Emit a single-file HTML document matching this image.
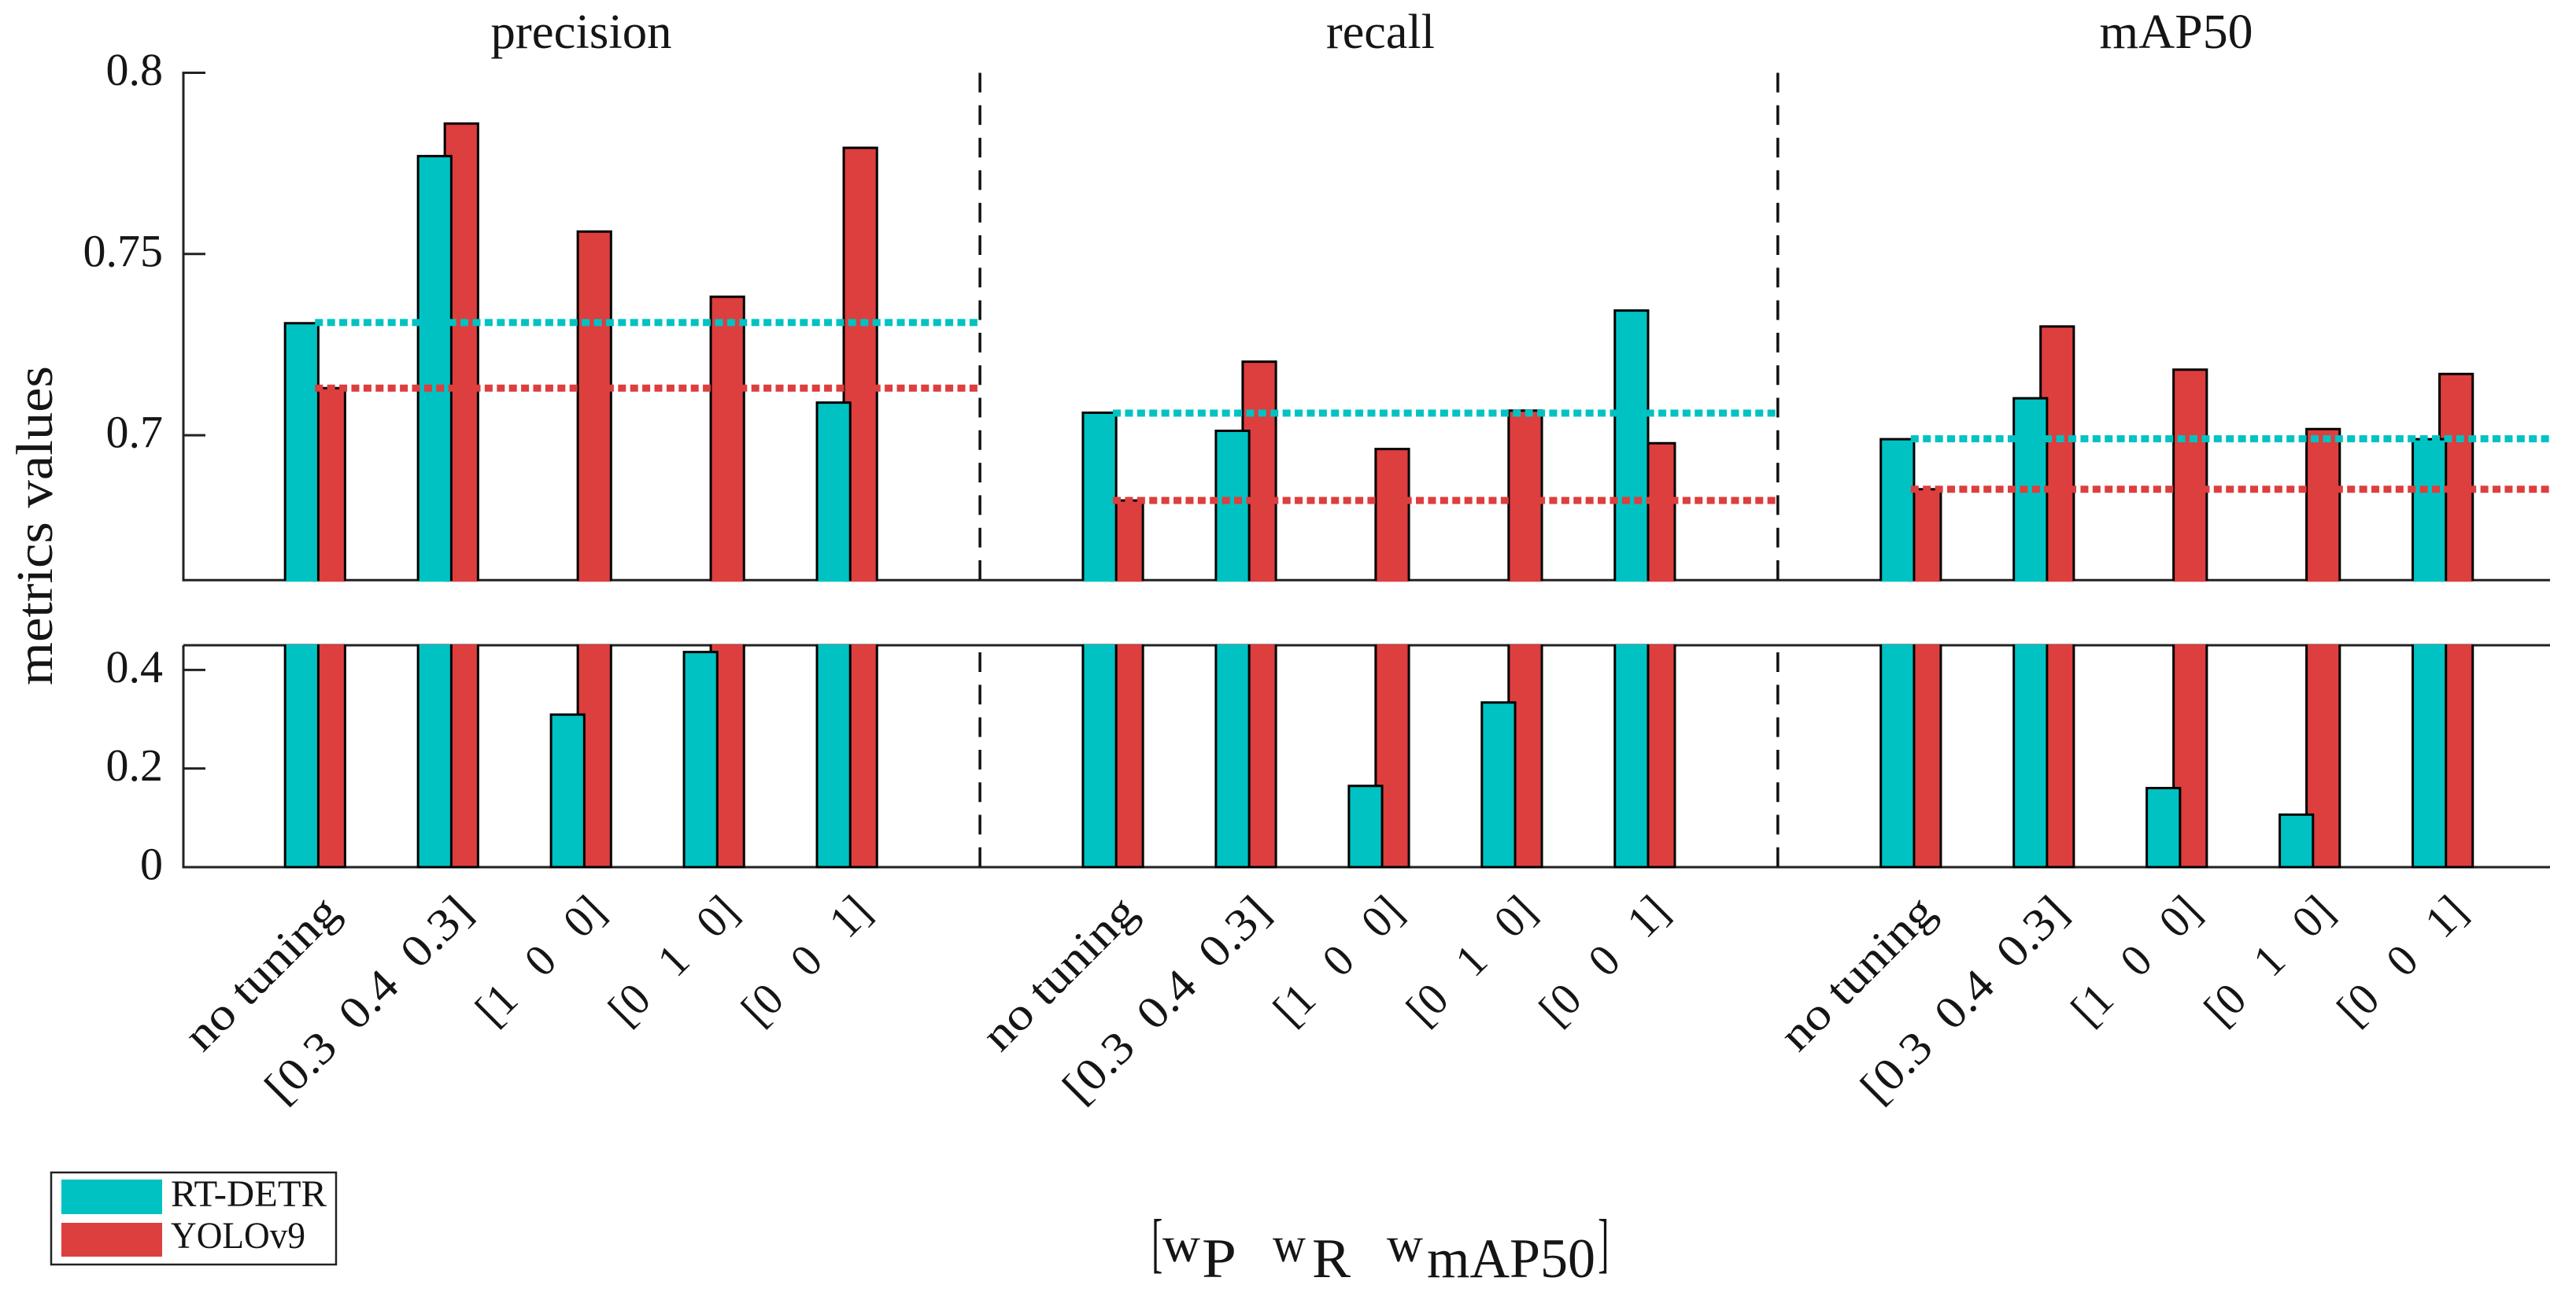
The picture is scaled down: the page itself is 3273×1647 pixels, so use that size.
<!DOCTYPE html>
<html lang="en">
<head>
<meta charset="utf-8">
<title>Metrics values by weight tuning</title>
<style>
html,body{margin:0;padding:0;background:#fff;}
svg{display:block;}
text{font-family:"Liberation Serif",serif;fill:#151515;white-space:pre;}
</style>
</head>
<body>
<svg id="chart" xmlns="http://www.w3.org/2000/svg" width="3273" height="1647" viewBox="0 0 3273 1647">
  <rect x="0" y="0" width="3273" height="1647" fill="#ffffff"/>
  <g id="axes"></g>
  <g id="marks"></g>
  <g id="refs"></g>
  <g id="labels"></g>

  <text transform="translate(66,871) rotate(-90)" font-size="66" textLength="406" lengthAdjust="spacingAndGlyphs">metrics values</text>

  <g>
    <text x="1463.3" y="1607.6" font-size="84" textLength="14" lengthAdjust="spacingAndGlyphs">[</text>
    <text x="1477" y="1603" font-size="64" textLength="48" lengthAdjust="spacingAndGlyphs">w</text>
    <text x="1527" y="1623" font-size="71" textLength="44" lengthAdjust="spacingAndGlyphs">P</text>
    <text x="1617" y="1603" font-size="64" textLength="42" lengthAdjust="spacingAndGlyphs">w</text>
    <text x="1667" y="1623" font-size="71" textLength="49" lengthAdjust="spacingAndGlyphs">R</text>
    <text x="1762" y="1603" font-size="64" textLength="46" lengthAdjust="spacingAndGlyphs">w</text>
    <text x="1813" y="1623" font-size="71" textLength="214" lengthAdjust="spacingAndGlyphs">mAP50</text>
    <text x="2030.3" y="1607.6" font-size="84" textLength="14" lengthAdjust="spacingAndGlyphs">]</text>
  </g>

  <g>
    <rect x="65" y="1490" width="362" height="117" fill="#ffffff" stroke="#222222" stroke-width="2.5"/>
    <rect x="78" y="1499" width="128" height="44" fill="#00c2c2"/>
    <text x="217" y="1533" font-size="48" textLength="198" lengthAdjust="spacingAndGlyphs">RT-DETR</text>
    <rect x="78" y="1554" width="128" height="43" fill="#dd3e3e"/>
    <text x="217" y="1586" font-size="48" textLength="171" lengthAdjust="spacingAndGlyphs">YOLOv9</text>
  </g>
</svg>

<script>
// ---- chart data ----
const metricNames = ['precision', 'recall', 'mAP50'];
const weightLabels = ['no tuning', '[0.3\u00a0\u00a00.4\u00a0\u00a00.3]', '[1\u00a0\u00a0\u00a00\u00a0\u00a0\u00a00]', '[0\u00a0\u00a0\u00a01\u00a0\u00a0\u00a00]', '[0\u00a0\u00a0\u00a00\u00a0\u00a0\u00a01]'];
const rtDetrPrecision = [0.7309, 0.777, 0.3093, 0.4362, 0.709];
const rtDetrRecall = [0.7062, 0.7012, 0.1648, 0.334, 0.7344];
const rtDetrMap50 = [0.6989, 0.7102, 0.1603, 0.1066, 0.6989];
const yoloPrecision = [0.713, 0.786, 0.7562, 0.7382, 0.7793];
const yoloRecall = [0.682, 0.7203, 0.6962, 0.7068, 0.6978];
const yoloMap50 = [0.6851, 0.73, 0.7181, 0.7017, 0.7169];
const rtDetrNoTuning = [0.7311, 0.7061, 0.699];
const yoloNoTuning = [0.713, 0.682, 0.6851];
const upperTicks = [0.7, 0.75, 0.8];
const lowerTicks = [0, 0.2, 0.4];
const upperTickLabels = ['0.7', '0.75', '0.8'];
const lowerTickLabels = ['0', '0.2', '0.4'];
const upperRange = [0.66, 0.8];
const lowerRange = [0, 0.45];

// ---- axis functions ----
const AXIS_LEFT = 233, AXIS_RIGHT = 3240;
const UP_TOP = 92.5, UP_BOTTOM = 737.3, LOW_TOP = 820, LOW_BOTTOM = 1102;
const BAR_W = 42.2, BAR_OFFSET = 17;
const TEAL = '#00c2c2', RED = '#dd3e3e', INK = '#222222';

function xPos(p) { return 400.3 + (p - 1) * 168.96; }
function yUpper(v) { return UP_BOTTOM - (v - upperRange[0]) / (upperRange[1] - upperRange[0]) * (UP_BOTTOM - UP_TOP); }
function yLower(v) { return LOW_BOTTOM - (v - lowerRange[0]) / (lowerRange[1] - lowerRange[0]) * (LOW_BOTTOM - LOW_TOP); }

const NS = 'http://www.w3.org/2000/svg';
function mk(tag, parent, attrs) {
  const el = document.createElementNS(NS, tag);
  for (const k in attrs) el.setAttribute(k, attrs[k]);
  parent.appendChild(el);
  return el;
}
const axes = document.getElementById('axes');
const marks = document.getElementById('marks');
const refs = document.getElementById('refs');
const labels = document.getElementById('labels');

// ---- axis lines ----
function axisLine(x1, y1, x2, y2) {
  return mk('line', axes, { x1: x1, y1: y1, x2: x2, y2: y2, stroke: INK, 'stroke-width': 3 });
}
let ax;
ax = axisLine(AXIS_LEFT, UP_TOP - 1.5, AXIS_LEFT, UP_BOTTOM + 1.5);


ax = axisLine(AXIS_LEFT, UP_BOTTOM, AXIS_RIGHT, UP_BOTTOM);


ax = axisLine(AXIS_LEFT, LOW_TOP, AXIS_LEFT, LOW_BOTTOM + 1.5);


ax = axisLine(AXIS_LEFT, LOW_TOP, AXIS_RIGHT, LOW_TOP);


ax = axisLine(AXIS_LEFT, LOW_BOTTOM, AXIS_RIGHT, LOW_BOTTOM);



// ---- y ticks ----
function drawTick(y, label) {
  const t = mk('line', axes, { x1: AXIS_LEFT, y1: y, x2: AXIS_LEFT + 28, y2: y, stroke: INK, 'stroke-width': 3 });
  
  
  const tx = mk('text', labels, { x: 207, y: y + 15.5, 'font-size': 58, 'text-anchor': 'end' });
  tx.textContent = label;
  
  
}
upperTicks.forEach(function (v, i) { drawTick(yUpper(v), upperTickLabels[i]); });
lowerTicks.forEach(function (v, i) { drawTick(yLower(v), lowerTickLabels[i]); });

// ---- bars ----
function drawBar(cx, v, color) {
  const l = cx - BAR_W / 2, r = cx + BAR_W / 2;
  // upper panel
  if (v > upperRange[0]) {
    const top = yUpper(v);
    const f = mk('rect', marks, { x: l, y: top, width: BAR_W, height: UP_BOTTOM + 2 - top, fill: color });
    
    
    const e = mk('path', marks, { d: 'M' + l + ' ' + (UP_BOTTOM + 1) + 'V' + top + 'H' + r + 'V' + (UP_BOTTOM + 1), fill: 'none', stroke: '#000', 'stroke-width': 3 });
    
    
  }
  // lower panel
  const clipped = v >= lowerRange[1];
  const lowTop = clipped ? LOW_TOP - 1 : yLower(v);
  const f2 = mk('rect', marks, { x: l, y: lowTop, width: BAR_W, height: LOW_BOTTOM - lowTop, fill: color });
  
  
  const d = clipped
    ? 'M' + l + ' ' + lowTop + 'V' + LOW_BOTTOM + 'H' + r + 'V' + lowTop
    : 'M' + l + ' ' + LOW_BOTTOM + 'V' + lowTop + 'H' + r + 'V' + LOW_BOTTOM + 'Z';
  const e2 = mk('path', marks, { d: d, fill: 'none', stroke: '#000', 'stroke-width': 3 });
  
  
}

const rtDetrSeries = [rtDetrPrecision, rtDetrRecall, rtDetrMap50];
const yoloSeries = [yoloPrecision, yoloRecall, yoloMap50];

metricNames.forEach(function (name, m) {
  const start = 1 + m * 6;
  weightLabels.forEach(function (lab, i) {
    const c = xPos(start + i);
    drawBar(c + BAR_OFFSET, yoloSeries[m][i], RED);
    drawBar(c - BAR_OFFSET, rtDetrSeries[m][i], TEAL);

    const len = lab === 'no tuning' ? 250 : lab.length > 11 ? 344 : 204;
    const tl = mk('text', labels, {
      transform: 'translate(' + (c + 34) + ',1162) rotate(-45)',
      'font-size': 58, 'text-anchor': 'end', textLength: len, lengthAdjust: 'spacingAndGlyphs'
    });
    tl.textContent = lab;
    
    
  });

  // no-tuning reference lines
  const x1 = xPos(start);
  const x2 = m < 2 ? xPos(start + 5) : AXIS_RIGHT;
  const refT = mk('line', refs, { x1: x1, x2: x2, y1: yUpper(rtDetrNoTuning[m]), y2: yUpper(rtDetrNoTuning[m]), stroke: TEAL, 'stroke-width': 9, 'stroke-dasharray': '10 5.4' });
  
  
  const refR = mk('line', refs, { x1: x1, x2: x2, y1: yUpper(yoloNoTuning[m]), y2: yUpper(yoloNoTuning[m]), stroke: RED, 'stroke-width': 9, 'stroke-dasharray': '10 5.4' });
  
  

  // panel separators
  if (m < 2) {
    const sx = xPos(start + 5);
    const s1 = mk('line', refs, { x1: sx, x2: sx, y1: UP_TOP, y2: UP_BOTTOM, stroke: '#111', 'stroke-width': 3.5, 'stroke-dasharray': '25 16.3' });
    
    
    const s2 = mk('line', refs, { x1: sx, x2: sx, y1: 829, y2: LOW_BOTTOM, stroke: '#111', 'stroke-width': 3.5, 'stroke-dasharray': '25 16.3' });
    
    
  }

  // metric title
  const centres = [738.5, 1754, 2765];
  const widths = [230, 138, 195];
  const title = mk('text', labels, { x: centres[m], y: 61, 'font-size': 62, 'text-anchor': 'middle', textLength: widths[m], lengthAdjust: 'spacingAndGlyphs' });
  title.textContent = name;
  
  
});
</script>
</body>
</html>
